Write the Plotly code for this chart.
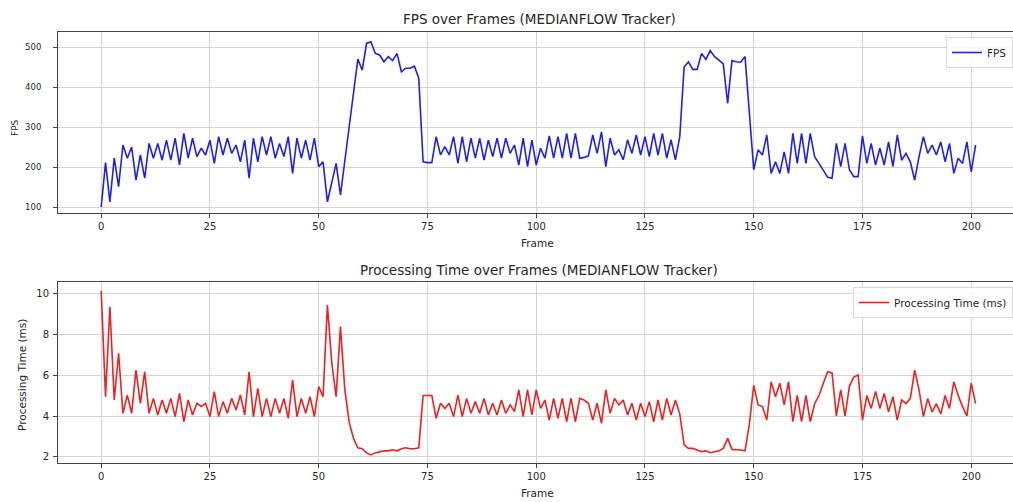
import plotly.graph_objects as go
from plotly.subplots import make_subplots

frames = list(range(202))

fps = [100, 211, 113, 222, 151, 255, 222, 250, 167, 230,
       172, 259, 222, 259, 217, 267, 217, 272, 205, 284,
       222, 272, 226, 247, 230, 267, 209, 276, 230, 272,
       234, 255, 213, 267, 172, 272, 213, 276, 230, 276,
       222, 259, 226, 276, 184, 272, 222, 267, 217, 272,
       201, 213, 113, 160, 209, 130, 215, 300, 385, 470,
       442, 509, 513, 484, 480, 463, 476, 466, 484, 438,
       447, 447, 452, 422, 213, 211, 211, 276, 230, 251,
       230, 276, 209, 276, 213, 272, 222, 272, 217, 267,
       226, 272, 222, 272, 234, 255, 205, 272, 201, 267,
       205, 247, 222, 278, 222, 276, 222, 284, 222, 284,
       222, 224, 228, 280, 234, 288, 201, 272, 230, 243,
       218, 268, 234, 280, 230, 276, 226, 284, 230, 284,
       222, 268, 218, 276, 450, 463, 444, 444, 484, 469,
       491, 476, 467, 458, 359, 466, 463, 462, 476, 330,
       193, 243, 230, 280, 184, 213, 184, 238, 184, 284,
       209, 284, 209, 284, 226, 209, 193, 174, 172, 259,
       201, 259, 193, 176, 176, 278, 209, 259, 205, 247,
       205, 263, 201, 280, 217, 234, 213, 167, 226, 276,
       234, 255, 230, 263, 213, 259, 184, 222, 209, 263,
       188, 255]

proc_ms = [10.1, 4.94, 9.33, 4.78, 7.06, 4.13, 5.02, 4.13, 6.24, 4.62,
           6.16, 4.13, 4.86, 4.05, 4.78, 4.13, 4.86, 3.97, 5.1, 3.72,
           4.78, 4.05, 4.62, 4.46, 4.62, 3.97, 5.19, 3.97, 4.7, 4.13,
           4.86, 4.29, 5.02, 4.05, 6.16, 3.97, 5.35, 3.97, 4.86, 3.97,
           4.86, 4.13, 4.86, 3.89, 5.76, 3.97, 4.86, 4.13, 4.94, 3.97,
           5.43, 4.94, 9.41, 6.6, 4.94, 8.36, 5.3, 3.7, 2.9, 2.45,
           2.4, 2.2, 2.1, 2.2, 2.25, 2.3, 2.3, 2.35, 2.3, 2.4,
           2.45, 2.4, 2.4, 2.45, 5.0, 5.0, 5.0, 3.89, 4.62, 4.37,
           4.62, 3.97, 5.02, 3.97, 4.86, 4.13, 4.7, 4.13, 4.86, 4.05,
           4.62, 4.05, 4.78, 4.13, 4.54, 4.21, 5.27, 3.97, 5.27, 4.05,
           5.27, 4.37, 4.78, 3.8, 4.86, 3.89, 4.86, 3.72, 4.86, 3.72,
           4.86, 4.78, 4.62, 3.8, 4.62, 3.64, 5.27, 4.13, 4.86, 4.54,
           4.78, 4.05, 4.62, 3.8, 4.62, 3.97, 4.7, 3.72, 4.78, 3.8,
           4.86, 4.05, 4.78, 4.1, 2.59, 2.42, 2.42, 2.34, 2.26, 2.3,
           2.21, 2.26, 2.3, 2.42, 2.91, 2.37, 2.37, 2.34, 2.3, 3.6,
           5.5, 4.54, 4.46, 3.8, 5.67, 4.94, 5.6, 4.54, 5.67, 3.72,
           5.0, 3.72, 5.0, 3.72, 4.6, 5.0, 5.6, 6.16, 6.1, 4.0,
           5.27, 4.0, 5.46, 5.9, 6.0, 3.8, 5.0, 4.37, 5.2, 4.37,
           5.1, 4.2, 4.94, 3.8, 4.78, 4.6, 4.86, 6.24, 5.27, 3.97,
           4.86, 4.2, 4.6, 4.1, 5.0, 4.37, 5.67, 5.0, 4.46, 4.0,
           5.6, 4.6]

x_ticks = [0, 25, 50, 75, 100, 125, 150, 175, 200]
fps_ticks = [100, 200, 300, 400, 500]
proc_ticks = [2, 4, 6, 8, 10]

W, H = 1013, 502
ML = 58
PW = W - ML
FONT = "DejaVu Sans"
TXT = "#262626"

fig = make_subplots(rows=2, cols=1, vertical_spacing=0.1)
fig.add_trace(go.Scatter(x=frames, y=fps, mode="lines", name="FPS",
                         line=dict(color="#2020ee", width=1.6)), row=1, col=1)
fig.add_trace(go.Scatter(x=frames, y=proc_ms, mode="lines", name="Processing Time (ms)",
                         line=dict(color="#ee2020", width=1.6), legend="legend2"), row=2, col=1)

def px_(pix):
    return (pix - ML) / PW

def py(pix):
    return (H - pix) / H

axis_common = dict(showgrid=True, gridcolor="#d4d4d4", gridwidth=1,
                   showline=True, linecolor="#444444", linewidth=1,
                   ticks="outside", ticklen=4, tickcolor="#444444", zeroline=False)

fig.update_xaxes(range=[-9.93, 209.6], tickvals=x_ticks, mirror=True,
                 tickfont=dict(family=FONT, size=10, color=TXT), **axis_common)
fig.update_yaxes(mirror=False, **axis_common)
fig.update_yaxes(range=[85, 537.5], tickvals=fps_ticks, row=1, col=1,
                 tickfont=dict(family=FONT, size=8.5, color=TXT), ticklabelstandoff=10)
fig.update_yaxes(range=[1.707, 10.537], tickvals=proc_ticks, row=2, col=1,
                 tickfont=dict(family=FONT, size=10, color=TXT), ticklabelstandoff=2)

leg_common = dict(xanchor="right", yanchor="top",
                  bgcolor="rgba(255,255,255,0.85)", bordercolor="#d8d8d8", borderwidth=1,
                  font=dict(family=FONT, size=10.5, color=TXT), itemwidth=30)

fig.update_layout(
    width=W, height=H,
    margin=dict(l=ML, r=0, t=0, b=0),
    paper_bgcolor="white", plot_bgcolor="white",
    font=dict(family=FONT, color=TXT),
    xaxis=dict(domain=[0, 1]),
    yaxis=dict(domain=[py(213), py(32)]),
    xaxis2=dict(domain=[0, 1]),
    yaxis2=dict(domain=[py(463), py(282)]),
    showlegend=True,
    legend=dict(x=1.0, y=py(37), **leg_common),
    legend2=dict(x=1.0, y=py(287), **leg_common),
)

ann = [
    dict(text="FPS over Frames (MEDIANFLOW Tracker)", x=539, y=19, size=13.5),
    dict(text="Processing Time over Frames (MEDIANFLOW Tracker)", x=539, y=270, size=13.5),
    dict(text="Frame", x=537, y=243, size=10.5),
    dict(text="Frame", x=537, y=493, size=10.5),
]
for a in ann:
    fig.add_annotation(text=a["text"], x=px_(a["x"]), y=py(a["y"]), xref="paper", yref="paper",
                       xanchor="center", yanchor="middle", showarrow=False,
                       font=dict(family=FONT, size=a["size"], color=TXT))
fig.add_annotation(text="FPS", x=px_(15), y=py(128), xref="paper", yref="paper",
                   xanchor="center", yanchor="middle", showarrow=False, textangle=-90,
                   font=dict(family=FONT, size=9, color=TXT))
fig.add_annotation(text="Processing Time (ms)", x=px_(22), y=py(375), xref="paper", yref="paper",
                   xanchor="center", yanchor="middle", showarrow=False, textangle=-90,
                   font=dict(family=FONT, size=10.5, color=TXT))

fig.write_html("out.html")
